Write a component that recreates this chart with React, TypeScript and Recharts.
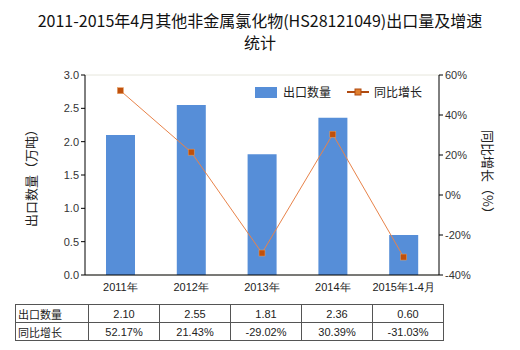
import { ComposedChart, Bar, Line, XAxis, YAxis, CartesianGrid } from 'recharts';

const categories = ['2011年', '2012年', '2013年', '2014年', '2015年1-4月'];
const exportQty = [2.1, 2.55, 1.81, 2.36, 0.6];
const growth = [52.17, 21.43, -29.02, 30.39, -31.03];
const qtyTicks = [0, 0.5, 1, 1.5, 2, 2.5, 3];
const pctTicks = [-40, -20, 0, 20, 40, 60];

const BAR_COLOR = '#568ed8';
const LINE_COLOR = '#e8834a';
const DOT_COLOR = '#c0500c';
const FONT = '"Liberation Sans", Arial, sans-serif';
const CJK = '"Noto Sans CJK SC", sans-serif';

const data = categories.map((name, i) => ({ name, qty: exportQty[i], pct: growth[i] }));

function SquareDot(props: any) {
  const { cx, cy } = props;
  if (cx == null || cy == null) return null;
  return <rect x={cx - 3} y={cy - 3} width={6} height={6} fill={DOT_COLOR} stroke="#e8a060" strokeWidth={0.5} />;
}

function LegendBox() {
  return (
    <div
      style={{
        position: 'absolute',
        left: 255,
        top: 84,
        display: 'flex',
        alignItems: 'center',
        fontFamily: CJK,
        fontSize: 12,
        color: '#222',
        lineHeight: '16px',
      }}
    >
      <span style={{ display: 'inline-block', width: 22, height: 11, background: BAR_COLOR, marginRight: 6 }} />
      <span style={{ marginRight: 16 }}>出口数量</span>
      <svg width={22} height={10} style={{ marginRight: 5 }}>
        <line x1={0} y1={5} x2={22} y2={5} stroke="#b04a10" strokeWidth={2} />
        <rect x={8} y={2} width={6} height={6} fill="#e08030" stroke="#b04a10" strokeWidth={1} />
      </svg>
      <span>同比增长</span>
    </div>
  );
}

const cell: React.CSSProperties = {
  border: '1px solid #555',
  padding: 0,
  height: 17,
  textAlign: 'center',
  fontFamily: FONT,
  fontSize: 11,
  color: '#222',
  width: 70,
};

export default function App() {
  return (
    <div style={{ position: 'absolute', left: 0, top: 0, width: 520, height: 350, background: '#fff' }}>
      <div
        style={{
          position: 'absolute',
          top: 9,
          left: 0,
          width: 520,
          textAlign: 'center',
          fontFamily: CJK,
          fontSize: 16,
          lineHeight: '22px',
          color: '#111',
        }}
      >
        2011-2015年4月其他非金属氯化物(HS28121049)出口量及增速
        <br />
        统计
      </div>
      <ComposedChart
        width={520}
        height={350}
        data={data}
        margin={{ top: 75, right: 31, bottom: 55, left: 45 }}
      >
        <CartesianGrid vertical={false} stroke="#e6e6dc" />
        <XAxis
          dataKey="name"
          height={20}
          tick={{ fontSize: 11, fill: '#222', fontFamily: FONT }}
          tickLine={false}
          axisLine={{ stroke: '#000' }}
        />
        <YAxis
          yAxisId="left"
          width={40}
          domain={[0, 3]}
          ticks={qtyTicks}
          tickFormatter={(v: number) => v.toFixed(1)}
          tick={{ fontSize: 11, fill: '#333', fontFamily: FONT }}
          tickSize={4}
          axisLine={{ stroke: '#000' }}
          tickLine={{ stroke: '#000' }}
        />
        <YAxis
          yAxisId="right"
          orientation="right"
          width={50}
          domain={[-40, 60]}
          ticks={pctTicks}
          tickFormatter={(v: number) => `${v}%`}
          tick={{ fontSize: 11, fill: '#333', fontFamily: FONT }}
          tickSize={4}
          axisLine={{ stroke: '#000' }}
          tickLine={{ stroke: '#000' }}
        />
        <Bar yAxisId="left" dataKey="qty" fill={BAR_COLOR} barSize={29} isAnimationActive={false} />
        <Line
          yAxisId="right"
          dataKey="pct"
          stroke={LINE_COLOR}
          strokeWidth={1}
          dot={<SquareDot />}
          activeDot={false}
          isAnimationActive={false}
        />
      </ComposedChart>
      <LegendBox />
      <div
        style={{
          position: 'absolute',
          left: 30,
          top: 175,
          transform: 'translate(-50%, -50%) rotate(-90deg)',
          whiteSpace: 'nowrap',
          fontFamily: CJK,
          fontSize: 13,
          color: '#222',
        }}
      >
        出口数量（万吨）
      </div>
      <div
        style={{
          position: 'absolute',
          left: 488,
          top: 175,
          transform: 'translate(-50%, -50%) rotate(90deg)',
          whiteSpace: 'nowrap',
          fontFamily: CJK,
          fontSize: 13,
          color: '#222',
        }}
      >
        同比增长（%）
      </div>
      <table
        style={{
          position: 'absolute',
          left: 15,
          top: 304,
          borderCollapse: 'collapse',
          tableLayout: 'fixed',
        }}
      >
        <tbody>
          <tr>
            <td style={{ ...cell, textAlign: 'left', fontFamily: CJK, paddingLeft: 2 }}>出口数量</td>
            {exportQty.map((v, i) => (
              <td key={i} style={cell}>{v.toFixed(2)}</td>
            ))}
          </tr>
          <tr>
            <td style={{ ...cell, textAlign: 'left', fontFamily: CJK, paddingLeft: 2 }}>同比增长</td>
            {growth.map((v, i) => (
              <td key={i} style={cell}>{v.toFixed(2)}%</td>
            ))}
          </tr>
        </tbody>
      </table>
    </div>
  );
}
